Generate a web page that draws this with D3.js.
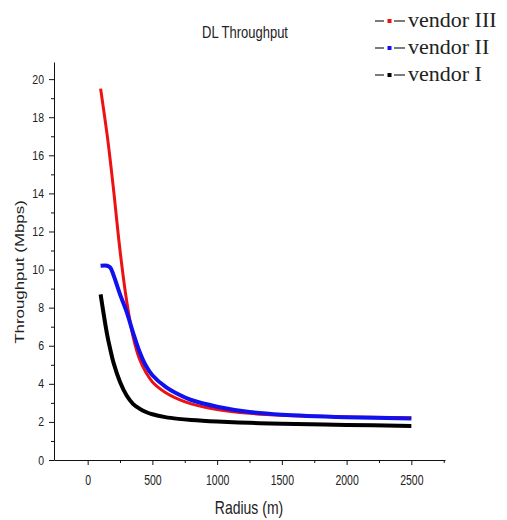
<!DOCTYPE html>
<html>
<head>
<meta charset="utf-8">
<script src="https://cdn.jsdelivr.net/npm/d3@7"></script>
<style>
  html, body { margin: 0; padding: 0; background: #fff; }
  svg text { font-family: "Liberation Sans", Arial, sans-serif; fill: #222; }
</style>
</head>
<body>
<div id="chart"></div>
<script>
(() => {
    // radius (m)
    const radius = [100, 150, 175, 200, 250, 300, 350, 400, 450, 500, 600, 700, 800, 1000, 1250, 1500, 2000, 2500];

    // throughput (Mbps) per vendor
    const vendor3 = [19.5, 17.1, 15.7, 14.2, 11.0, 8.4, 6.5, 5.3, 4.6, 4.1, 3.55, 3.2, 2.95, 2.65, 2.45, 2.35, 2.26, 2.22];
    const vendor2 = [10.2, 10.2, 10.1, 9.7, 8.7, 7.8, 6.7, 5.7, 4.95, 4.45, 3.85, 3.45, 3.15, 2.8, 2.52, 2.38, 2.25, 2.18];
    const vendor1 = [8.7, 6.6, 5.8, 5.1, 4.1, 3.4, 2.95, 2.7, 2.52, 2.4, 2.25, 2.16, 2.1, 2.02, 1.95, 1.9, 1.84, 1.79];

    const seriesNames = ["vendor III", "vendor II", "vendor I"];
    const seriesColors = ["#ee1111", "#1111ee", "#000000"];
    const seriesWidths = [3, 4, 4];

    const xTicks = [0, 500, 1000, 1500, 2000, 2500];
    const yTicks = [0, 2, 4, 6, 8, 10, 12, 14, 16, 18, 20];

    const svg = d3.select("#chart")
        .append("svg")
        .attr("width", 507)
        .attr("height", 520);

    const x = d3.scaleLinear().domain([-260, 2760]).range([54, 445]);
    const y = d3.scaleLinear().domain([0, 20.9]).range([460, 62]);

    // trục x
    const xAxis = svg.append("g")
        .attr("transform", "translate(0,460)")
        .call(d3.axisBottom(x).tickValues(xTicks).tickFormat(d3.format("d")).tickSize(5).tickSizeOuter(0));
    svg.append("g")
        .attr("transform", "translate(0,460)")
        .call(d3.axisBottom(x).tickValues(d3.range(250, 2800, 500)).tickSize(3).tickFormat("").tickSizeOuter(0))
        .select(".domain").remove();

    xAxis.selectAll("text")
        .attr("y", 0)
        .attr("dy", 0)
        .attr("transform", "translate(0,25) scale(1,1.35)")
        .style("font-size", "10.5px");

    // trục y
    const yAxis = svg.append("g")
        .attr("transform", "translate(54,0)")
        .call(d3.axisLeft(y).tickValues(yTicks).tickSize(5).tickSizeOuter(0));
    svg.append("g")
        .attr("transform", "translate(54,0)")
        .call(d3.axisLeft(y).tickValues(d3.range(1, 21, 2)).tickSize(3).tickFormat("").tickSizeOuter(0))
        .select(".domain").remove();

    yAxis.selectAll("text")
        .attr("x", 0)
        .attr("dy", 0)
        .attr("transform", "translate(-10,4) scale(1,1.2)")
        .style("font-size", "10.5px");

    svg.selectAll(".domain, .tick line").attr("stroke", "#111");

    // các đường
    const line = d3.line()
        .x((d, i) => x(radius[i]))
        .y(d => y(d))
        .curve(d3.curveCatmullRom.alpha(0.5));

    const allSeries = [vendor3, vendor2, vendor1];
    // vẽ theo thứ tự: đỏ, xanh, đen
    svg.selectAll("path.series")
        .data(allSeries)
        .enter()
        .append("path")
        .attr("class", "series")
        .attr("d", d => line(d))
        .attr("fill", "none")
        .attr("stroke", (d, i) => seriesColors[i])
        .attr("stroke-width", (d, i) => seriesWidths[i]);

    // tiêu đề
    svg.append("text")
        .attr("transform", "translate(245,38) scale(1,1.25)")
        .attr("text-anchor", "middle")
        .style("font-size", "13px")
        .text("DL Throughput");

    // nhãn trục
    svg.append("text")
        .attr("transform", "translate(249,514) scale(1,1.3)")
        .attr("text-anchor", "middle")
        .style("font-size", "14px")
        .text("Radius (m)");

    svg.append("text")
        .attr("transform", "translate(24,272) rotate(-90) scale(1.3,1)")
        .attr("text-anchor", "middle")
        .style("font-size", "13px")
        .text("Throughput (Mbps)");

    // legend
    const legend = svg.append("g");
    const rows = legend.selectAll("g")
        .data(seriesNames)
        .enter()
        .append("g")
        .attr("transform", (d, i) => `translate(0,${27 + i * 27})`);

    rows.append("line")
        .attr("x1", 375).attr("x2", 384)
        .attr("y1", -6).attr("y2", -6)
        .attr("stroke", "#222").attr("stroke-width", 1.2);
    rows.append("line")
        .attr("x1", 394).attr("x2", 405)
        .attr("y1", -6).attr("y2", -6)
        .attr("stroke", "#222").attr("stroke-width", 1.2);
    rows.append("rect")
        .attr("x", 387.5).attr("y", -8)
        .attr("width", 4).attr("height", 4)
        .attr("fill", (d, i) => seriesColors[i]);
    rows.append("text")
        .attr("x", 408)
        .attr("y", 0)
        .style("font-family", "'Liberation Serif', 'Times New Roman', serif")
        .style("font-size", "22px")
        .text(d => d);
})();
</script>
</body>
</html>
